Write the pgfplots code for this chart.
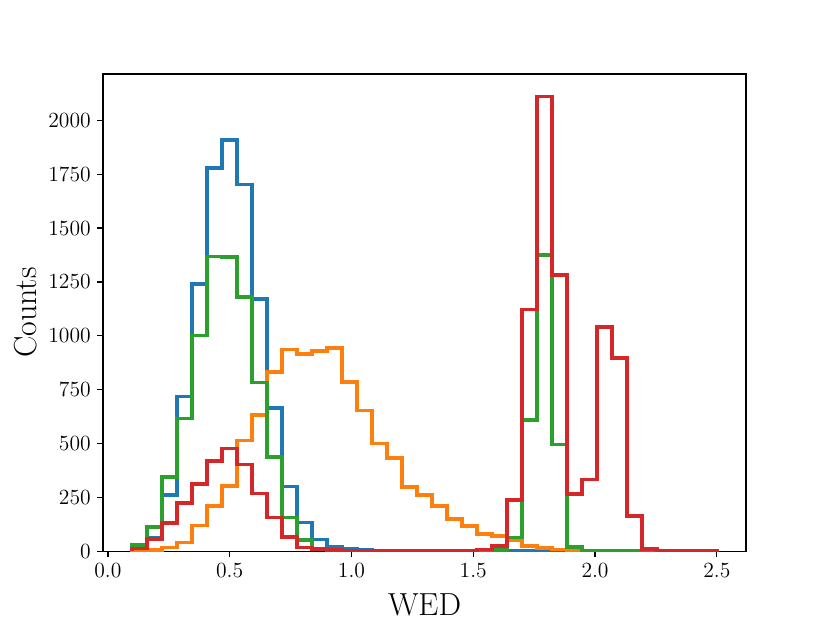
\documentclass[border=0pt]{standalone}
\usepackage{pgfplots}
\usepackage{pgfplotstable}
\pgfplotsset{compat=1.18}
\definecolor{tabblue}{HTML}{1F77B4}
\definecolor{taborange}{HTML}{FF7F0E}
\definecolor{tabgreen}{HTML}{2CA02C}
\definecolor{tabred}{HTML}{D62728}
% right bin edges (first row: left edge of first bin)
\pgfplotstableread{
x       blue  orange green red
0.1       0     0     0     0
0.16154  25     1    28    12
0.22308  62     6   113    56
0.28462 260    17   343   130
0.34615 719    40   616   224
0.40769 1241  120  1002   311
0.46923 1779  209  1369   418
0.53077 1910  302  1366   477
0.59231 1702  514  1179   402
0.65385 1171  632   784   267
0.71538 664   832   437   157
0.77692 300   936   156    66
0.83846 133   916    52    17
0.9      54   929    12    10
0.96154  20   943     4     5
1.02308  11   786     1     3
1.08462   5   654     0     2
1.14615   2   500     0     1
1.20769   1   433     0     1
1.26923   0   299     0     1
1.33077   0   260     0     1
1.39231   0   209     0     1
1.45385   0   150     0     1
1.51538   0   116     0     1
1.57692   0    80     1     8
1.63846   0    70     6    25
1.7       2    50    63   237
1.76154   1    23   608  1122
1.82308   0    16  1374  2111
1.88462   0     8   495  1281
1.94615   0     4    20   266
2.00769   0     2     4   333
2.06923   0     1     1  1041
2.13077   0     0     0   897
2.19231   0     0     0   162
2.25385   0     0     0    11
2.31538   0     0     0     2
2.37692   0     0     0     1
2.43846   0     0     0     1
2.5       0     0     0     1
2.5       0     0     0     0
}\hist
\begin{document}
\begin{tikzpicture}
\path[use as bounding box] (-57.2pt,-38.3pt) rectangle (403.6pt,306pt);
\begin{axis}[
  at={(0,0)}, anchor=south west,
  scale only axis, width=357pt, height=264.9pt,
  xmin=-0.02, xmax=2.62, ymin=0, ymax=2215.5,
  xtick={0,0.5,1,1.5,2,2.5},
  xticklabel style={/pgf/number format/.cd,fixed,fixed zerofill,precision=1},
  ytick={0,250,500,750,1000,1250,1500,1750,2000},
  yticklabel style={/pgf/number format/.cd,fixed,1000 sep={}},
  scaled ticks=false,
  tick align=outside, xtick pos=bottom, ytick pos=left,
  major tick length=3.3pt,
  tick style={black, line width=0.7pt},
  axis line style={line width=0.7pt},
  ticklabel style={font=\fontsize{11.7}{13}\selectfont},
  xlabel={WED}, ylabel={Counts},
  label style={font=\fontsize{17.7}{20}\selectfont},
  xlabel style={at={(axis description cs:0.5,-0.113)}, anchor=center},
  ylabel style={at={(axis description cs:-0.1199,0.5)}, anchor=center},
  every axis plot/.append style={const plot mark right, line width=2pt, no marks, line join=miter},
]
\addplot[tabblue] table[x=x,y=blue] {\hist};
\addplot[taborange] table[x=x,y=orange] {\hist};
\addplot[tabgreen] table[x=x,y=green] {\hist};
\addplot[tabred] table[x=x,y=red] {\hist};
\end{axis}
\end{tikzpicture}
\end{document}
